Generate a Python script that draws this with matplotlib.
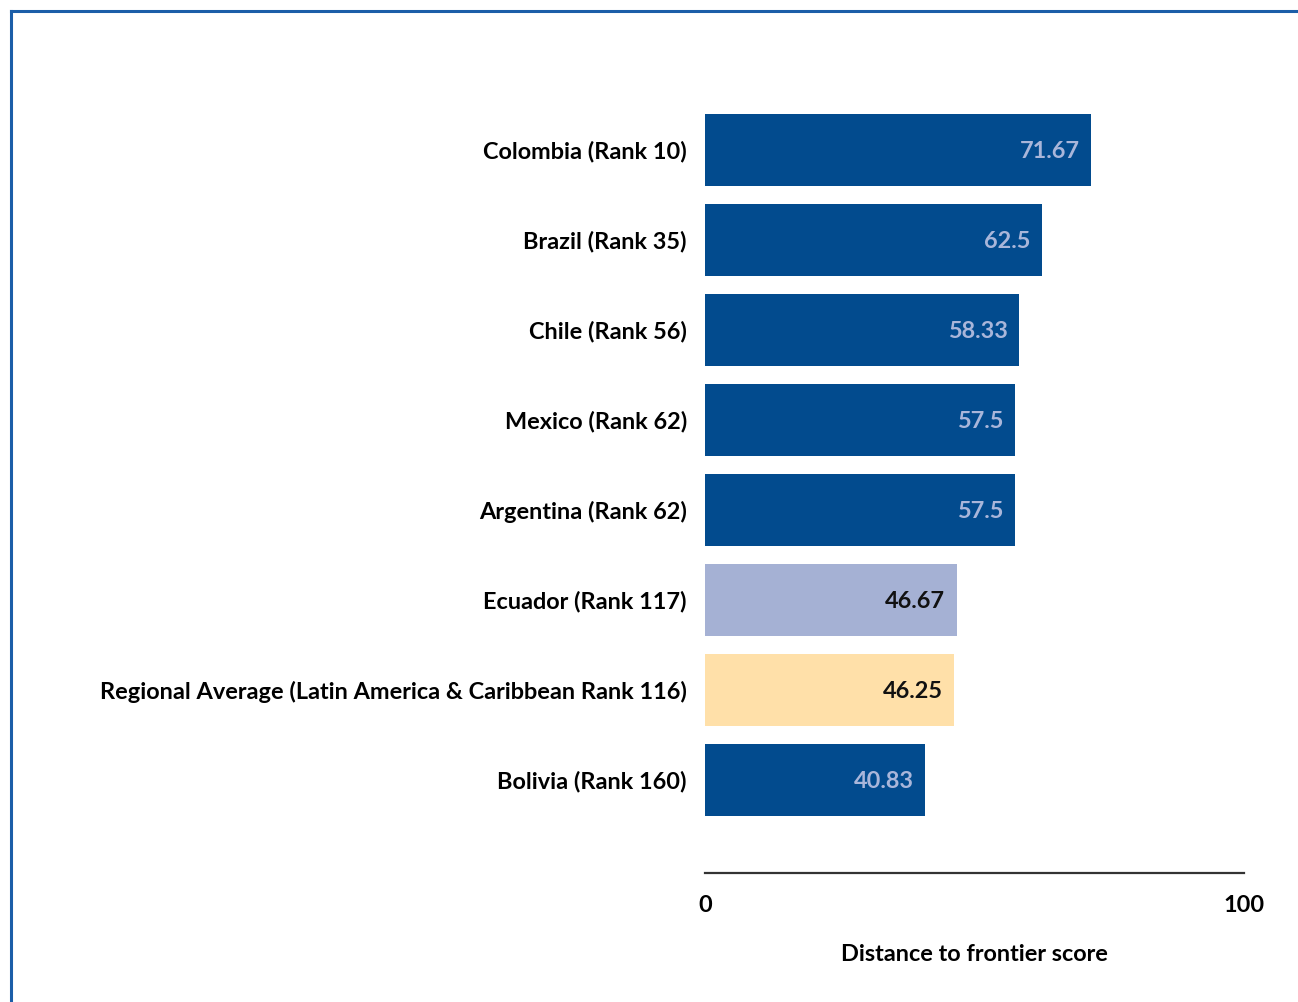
import matplotlib
matplotlib.use('Agg')
from matplotlib import pyplot as plt
from matplotlib.lines import Line2D

# Data
landen = ["Colombia (Rank 10)", "Brazil (Rank 35)", "Chile (Rank 56)",
          "Mexico (Rank 62)", "Argentina (Rank 62)", "Ecuador (Rank 117)",
          "Regional Average (Latin America & Caribbean Rank 116)",
          "Bolivia (Rank 160)"]
scores = [71.67, 62.5, 58.33, 57.5, 57.5, 46.67, 46.25, 40.83]
score_labels = ["71.67", "62.5", "58.33", "57.5", "57.5", "46.67", "46.25", "40.83"]
x_ticks = [0, 100]

donker = "#024B8E"
kleuren = [donker] * 5 + ["#A5B1D4", "#FFE0A9", donker]
tekst_kleuren = ["#A9B6DA"] * 5 + ["#111111", "#111111", "#A9B6DA"]

plt.rcParams['font.family'] = ['Lato', 'DejaVu Sans']
fs = 16.9

fig = plt.figure(figsize=(12.98, 10.02), dpi=100)
ax = fig.add_axes([705 / 1298, (1002 - 873) / 1002,
                   (1244 - 705) / 1298, (873 - 60) / 1002])

posities = list(range(len(landen)))
ax.barh(posities, scores, height=0.8, color=kleuren)

for i, (s, lab) in enumerate(zip(scores, score_labels)):
    ax.text(s - 2.1, i, lab, ha='right', va='center_baseline', fontsize=fs,
            fontweight='bold', color=tekst_kleuren[i])

ax.set_xlim(0, 100)
ax.set_ylim(7 + 93 / 90, -1)
ax.set_yticks(posities)
ax.set_yticklabels(landen, fontsize=fs, fontweight='bold')
ax.set_xticks(x_ticks)
ax.set_xticklabels([str(t) for t in x_ticks], fontsize=fs, fontweight='bold')
ax.tick_params(axis='y', length=0, pad=13)
ax.tick_params(axis='x', length=0, pad=16)
ax.set_xlabel("Distance to frontier score", fontsize=fs, fontweight='bold',
              labelpad=20)

for kant in ['top', 'right', 'left']:
    ax.spines[kant].set_visible(False)
ax.spines['bottom'].set_color('#333333')
ax.spines['bottom'].set_linewidth(1.6)

# Blauwe rand boven en links
fig.add_artist(Line2D([11 / 1298, 1], [1 - 11 / 1002, 1 - 11 / 1002],
                      color='#1B5EA8', lw=2.2, transform=fig.transFigure))
fig.add_artist(Line2D([11 / 1298, 11 / 1298], [0, 1 - 11 / 1002],
                      color='#1B5EA8', lw=2.2, transform=fig.transFigure))

fig.savefig("out.png", dpi=100)
